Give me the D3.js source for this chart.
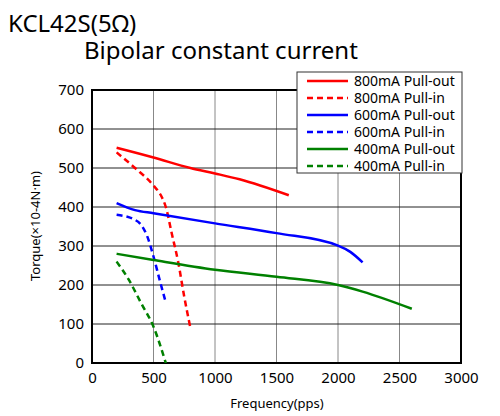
<!DOCTYPE html><html><head><meta charset="utf-8"><script src="https://cdn.jsdelivr.net/npm/d3@7"></script>
<style>body{margin:0;background:#fff}text{font-family:"Noto Sans",sans-serif}</style></head><body><svg id="c" width="500" height="416"></svg>
<script>
const xTicks=[0,500,1000,1500,2000,2500,3000];
const yTicks=[0,100,200,300,400,500,600,700];
const s800out=[[200,552],[500,527],[800,500],[1000,486],[1200,471],[1600,430]];
const s800in=[[200,540],[350,500],[500,455],[560,430],[600,400],[650,330],[700,260],[750,170],[800,90]];
const s600out=[[200,410],[350,392],[500,384],[1000,358],[1500,333],[2000,301],[2100,285],[2200,258]];
const s600in=[[200,380],[350,367],[400,354],[450,324],[500,273],[550,213],[600,155]];
const s400out=[[200,280],[500,264],[1000,239],[1500,221],[2000,200],[2200,183],[2600,139]];
const s400in=[[200,260],[300,213],[400,153],[500,93],[600,0]];
const series=[
 {name:"800mA Pull-out",d:s800out,c:"#ff0000",dash:null},
 {name:"800mA Pull-in",d:s800in,c:"#ff0000",dash:"6,4"},
 {name:"600mA Pull-out",d:s600out,c:"#0000ff",dash:null},
 {name:"600mA Pull-in",d:s600in,c:"#0000ff",dash:"6,4"},
 {name:"400mA Pull-out",d:s400out,c:"#008000",dash:null},
 {name:"400mA Pull-in",d:s400in,c:"#008000",dash:"6,4"}];
const svg=d3.select("#c");
const L=92,R=461,T=90,B=363;
const x=d3.scaleLinear().domain([0,3000]).range([L,R]);
const y=d3.scaleLinear().domain([0,700]).range([B,T]);
const g=svg.append("g");
xTicks.forEach(t=>g.append("line").attr("x1",x(t)).attr("x2",x(t)).attr("y1",T).attr("y2",B).attr("stroke","#888").attr("stroke-width",1));
yTicks.forEach(t=>g.append("line").attr("x1",L).attr("x2",R).attr("y1",y(t)).attr("y2",y(t)).attr("stroke","#222").attr("stroke-width",1));
g.append("rect").attr("x",L).attr("y",T).attr("width",R-L).attr("height",B-T).attr("fill","none").attr("stroke","#000").attr("stroke-width",2);
const ax=svg.append("g").attr("transform",`translate(0,${B})`).call(d3.axisBottom(x).tickValues(xTicks).tickFormat(d3.format("d")).tickSize(0).tickPadding(9));
ax.select(".domain").remove();ax.selectAll("text").attr("font-size",15).attr("fill","#000");
const ay=svg.append("g").attr("transform",`translate(${L},0)`).call(d3.axisLeft(y).tickValues(yTicks).tickFormat(d3.format("d")).tickSize(0).tickPadding(8));
ay.select(".domain").remove();ay.selectAll("text").attr("font-size",15).attr("fill","#000");
const line=d3.line().x(d=>x(d[0])).y(d=>y(d[1])).curve(d3.curveMonotoneX);
series.forEach(s=>svg.append("path").attr("d",line(s.d)).attr("fill","none").attr("stroke",s.c).attr("stroke-width",2.5).attr("stroke-dasharray",s.dash));
const lg=svg.append("g");
lg.append("rect").attr("x",297).attr("y",72).attr("width",165).attr("height",101).attr("fill","#fff").attr("stroke","#333");
series.forEach((s,i)=>{const yy=81+i*17;
 lg.append("line").attr("x1",307).attr("x2",348).attr("y1",yy).attr("y2",yy).attr("stroke",s.c).attr("stroke-width",2.5).attr("stroke-dasharray",s.dash);
 lg.append("text").attr("x",354).attr("y",yy+5).attr("font-size",14).text(s.name);});
svg.append("text").attr("x",8).attr("y",32).attr("font-size",24).text("KCL42S(5Ω)");
svg.append("text").attr("x",84).attr("y",59).attr("font-size",24).text("Bipolar constant current");
svg.append("text").attr("x",277).attr("y",408).attr("text-anchor","middle").attr("font-size",13).text("Frequency(pps)");
svg.append("text").attr("transform","translate(40,226) rotate(-90)").attr("text-anchor","middle").attr("font-size",13).text("Torque(×10-4N·m)");
</script></body></html>
